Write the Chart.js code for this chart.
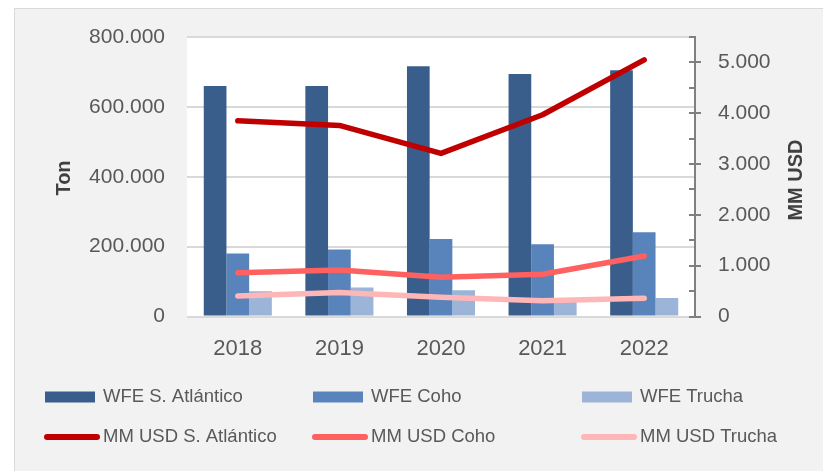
<!DOCTYPE html>
<html>
<head>
<meta charset="utf-8">
<script src="https://cdn.jsdelivr.net/npm/chart.js@4.4.1/dist/chart.umd.min.js"></script>
<style>
  html, body { margin: 0; padding: 0; background: #fff; }
  #wrap { width: 823px; height: 471px; }
</style>
</head>
<body>
<div id="wrap"><canvas id="myChart" width="823" height="471"></canvas></div>
<script>
const years = ["2018", "2019", "2020", "2021", "2022"];

// toneladas (eje izquierdo)
const wfeAtlantico = [660000, 660000, 716000, 694000, 705000];
const wfeCoho = [180000, 192000, 222000, 207000, 241000];
const wfeTrucha = [72000, 83000, 75000, 52000, 53000];

// MM USD (eje derecho)
const usdAtlantico = [3850, 3760, 3210, 3970, 5050];
const usdCoho = [862, 915, 771, 830, 1190];
const usdTrucha = [404, 470, 378, 312, 358];

const tonTicks = [0, 200000, 400000, 600000, 800000];
const usdTicks = [0, 1000, 2000, 3000, 4000, 5000];

const font = "'Liberation Sans', Arial, sans-serif";
const textColor = "#595959";

function miles(v) {
  return String(v).replace(/\B(?=(\d{3})+(?!\d))/g, ".");
}

// fondo gris del panel y area de trazado blanca
const backgroundPlugin = {
  id: "panel",
  beforeDraw(chart) {
    const { ctx, chartArea } = chart;
    ctx.save();
    ctx.fillStyle = "#ffffff";
    ctx.fillRect(0, 0, chart.width, chart.height);
    ctx.fillStyle = "#F2F2F2";
    ctx.fillRect(14, 8, chart.width - 14, chart.height - 8);
    ctx.strokeStyle = "#D9D9D9";
    ctx.lineWidth = 1;
    ctx.strokeRect(14.5, 8.5, chart.width, chart.height);
    ctx.fillStyle = "#ffffff";
    ctx.fillRect(chartArea.left, chartArea.top, chartArea.right - chartArea.left, chartArea.bottom - chartArea.top);
    ctx.restore();
  },
};

// marcas del eje derecho, titulos de ejes y leyenda en rejilla
const extrasPlugin = {
  id: "extras",
  afterDraw(chart) {
    const { ctx } = chart;
    const y1 = chart.scales.y1;
    const x0 = y1.left;

    ctx.save();
    ctx.strokeStyle = "#808080";
    ctx.lineWidth = 2;
    y1.ticks.forEach((t) => {
      const y = Math.round(y1.getPixelForValue(t.value));
      const major = t.value % 1000 === 0;
      ctx.beginPath();
      ctx.moveTo(x0 - 6, y);
      ctx.lineTo(major ? x0 + 6 : x0, y);
      ctx.stroke();
    });

    ctx.fillStyle = "#404040";
    ctx.font = "bold 20px " + font;
    ctx.textAlign = "center";
    ctx.textBaseline = "middle";
    [["Ton", 64, 178], ["MM USD", 796, 180]].forEach(([txt, x, y]) => {
      ctx.save();
      ctx.translate(x, y);
      ctx.rotate(-Math.PI / 2);
      ctx.fillText(txt, 0, 0);
      ctx.restore();
    });

    const cols = [45, 313, 582];
    const rows = [397, 437];
    ctx.font = "18.5px " + font;
    ctx.textAlign = "left";
    chart.data.datasets.forEach((ds, i) => {
      const col = cols[i % 3];
      const row = rows[Math.floor(i / 3)];
      if (ds.type === "bar") {
        ctx.fillStyle = ds.backgroundColor;
        ctx.fillRect(col, row - 5.5, 50, 11);
      } else {
        ctx.strokeStyle = ds.borderColor;
        ctx.lineWidth = 6;
        ctx.lineCap = "round";
        ctx.beginPath();
        ctx.moveTo(col + 2, row);
        ctx.lineTo(col + 52, row);
        ctx.stroke();
      }
      ctx.fillStyle = textColor;
      ctx.fillText(ds.label, col + 58, row);
    });
    ctx.restore();
  },
};

function barSet(label, data, color) {
  return {
    type: "bar",
    label: label,
    data: data,
    backgroundColor: color,
    yAxisID: "y",
    order: 1,
    categoryPercentage: 0.67,
    barPercentage: 1.0,
  };
}

function lineSet(label, data, color) {
  return {
    type: "line",
    label: label,
    data: data,
    borderColor: color,
    backgroundColor: color,
    borderWidth: 5.5,
    borderCapStyle: "round",
    borderJoinStyle: "round",
    pointRadius: 0,
    tension: 0,
    fill: false,
    yAxisID: "y1",
    order: 0,
  };
}

const ctx = document.getElementById("myChart").getContext("2d");
new Chart(ctx, {
  data: {
    labels: years,
    datasets: [
      barSet("WFE S. Atlántico", wfeAtlantico, "#3A5E8B"),
      barSet("WFE Coho", wfeCoho, "#5983BB"),
      barSet("WFE Trucha", wfeTrucha, "#9BB4D7"),
      lineSet("MM USD S. Atlántico", usdAtlantico, "#C00000"),
      lineSet("MM USD Coho", usdCoho, "#FF6060"),
      lineSet("MM USD Trucha", usdTrucha, "#FFB6B6"),
    ],
  },
  options: {
    responsive: false,
    animation: false,
    layout: { padding: { top: 37, left: 0, right: 0, bottom: 0 } },
    plugins: {
      legend: { display: false },
      tooltip: { enabled: false },
    },
    scales: {
      x: {
        grid: { display: false },
        border: { display: false },
        ticks: { color: textColor, font: { family: font, size: 22 }, padding: 11 },
        afterFit: (s) => { s.height = 154.5; },
      },
      y: {
        position: "left",
        min: 0,
        max: 800000,
        afterBuildTicks: (s) => { s.ticks = tonTicks.map((v) => ({ value: v })); },
        grid: { color: "#D9D9D9", lineWidth: 2, drawTicks: false },
        border: { display: false },
        ticks: {
          color: textColor,
          font: { family: font, size: 21 },
          padding: 22,
          callback: (v) => miles(v),
        },
        afterFit: (s) => { s.width = 187; },
      },
      y1: {
        position: "right",
        min: 0,
        max: 5500,
        ticks: {
          stepSize: 500,
          autoSkip: false,
          color: textColor,
          font: { family: font, size: 21 },
          padding: 23,
          callback: (v) => (usdTicks.includes(v) ? miles(v) : ""),
        },
        grid: { drawOnChartArea: false, drawTicks: false },
        border: { display: true, color: "#808080", width: 2 },
        afterFit: (s) => { s.width = 128; },
      },
    },
  },
  plugins: [backgroundPlugin, extrasPlugin],
});
</script>
</body>
</html>
